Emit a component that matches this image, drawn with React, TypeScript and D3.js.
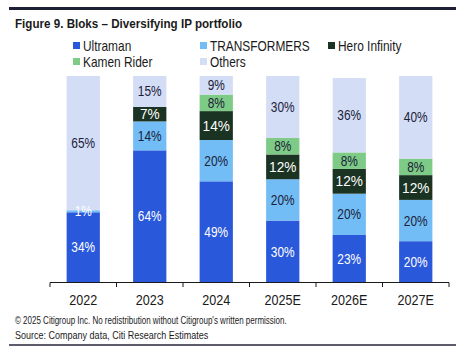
import React from "react";
import * as d3 from "d3";

const years = ["2022", "2023", "2024", "2025E", "2026E", "2027E"];
const seriesNames = ["Ultraman", "TRANSFORMERS", "Hero Infinity", "Kamen Rider", "Others"];
const ultraman = [34, 64, 49, 30, 23, 20];
const transformers = [1, 14, 20, 20, 20, 20];
const heroInfinity = [0, 7, 14, 12, 12, 12];
const kamenRider = [0, 0, 8, 8, 8, 8];
const others = [65, 15, 9, 30, 36, 40];

const colors = ["#2a58db", "#72bdf6", "#1b3322", "#7dcb86", "#d4ddf6"];
const labelColors = ["#ffffff", "#1b2238", "#ffffff", "#1b2238", "#1b2238"];
const FONT = "'Liberation Sans', Arial, sans-serif";

function CText({ x, y, size, fill, anchor = "middle", sx = 0.84, children, weight = "normal" }: any) {
  return (
    <text
      transform={`translate(${x},${y}) scale(${sx},1)`}
      fontSize={size}
      fill={fill}
      textAnchor={anchor}
      fontFamily={FONT}
      fontWeight={weight}
    >
      {children}
    </text>
  );
}

export default function App() {
  const W = 468, H = 355;
  const data = years.map((y, i) => ({
    year: y,
    values: [ultraman[i], transformers[i], heroInfinity[i], kamenRider[i], others[i]],
  }));
  const x = d3.scaleBand<string>().domain(years).range([50, 449]).paddingInner(0.5).paddingOuter(0.25);
  const yScale = d3.scaleLinear().domain([0, 100]).range([282.5, 76]);
  const boundaries = years.map((_, i) => 50 + i * x.step()).concat([449]);

  const legendPos = [
    [73, 42], [200, 42], [328, 42], [73, 58], [200, 58],
  ];

  return (
    <svg width={W} height={H} style={{ position: "absolute", left: 0, top: 0 }}>
      <rect x={0} y={0} width={W} height={H} fill="#ffffff" />
      <rect x={9} y={7} width={447} height={3} fill="#1c1f35" />
      <CText x={15} y={28} size={12.5} fill="#1a1a1a" anchor="start" sx={0.93} weight="bold">
        Figure 9. Bloks – Diversifying IP portfolio
      </CText>
      {seriesNames.map((n, i) => (
        <g key={n}>
          <rect x={legendPos[i][0]} y={legendPos[i][1]} width={7} height={7} fill={colors[i]} />
          <CText x={legendPos[i][0] + 10} y={legendPos[i][1] + 8.5} size={14} fill="#1a1a1a" anchor="start" sx={0.85}>
            {n}
          </CText>
        </g>
      ))}
      {data.map((d) => {
        let cum = 0;
        const bx = x(d.year)!;
        const bw = x.bandwidth();
        return (
          <g key={d.year}>
            {d.values.map((v, si) => {
              const y0 = yScale(cum);
              cum += v;
              const y1 = yScale(cum);
              if (v <= 0) return null;
              return (
                <rect key={si} x={bx} y={y1} width={bw} height={y0 - y1} fill={colors[si]} />
              );
            })}
          </g>
        );
      })}
      {data.map((d) => {
        let cum = 0;
        const cx = x(d.year)! + x.bandwidth() / 2;
        return (
          <g key={d.year + "l"}>
            {d.values.map((v, si) => {
              const y0 = yScale(cum);
              cum += v;
              const y1 = yScale(cum);
              if (v <= 0) return null;
              const cy = (y0 + y1) / 2;
              const fill = v < 3 ? "#ffffff" : labelColors[si];
              const bold = si === 2;
              return (
                <CText key={si} x={cx} y={cy + 5} size={bold ? 15.5 : 14.5} fill={fill} sx={bold ? 0.88 : 0.82}>
                  {`${v}%`}
                </CText>
              );
            })}
          </g>
        );
      })}
      <line x1={50} x2={449} y1={282.5} y2={282.5} stroke="#1a1a1a" strokeWidth={1.2} />
      {boundaries.map((b, i) => (
        <line key={i} x1={b} x2={b} y1={282.5} y2={287} stroke="#1a1a1a" strokeWidth={1} />
      ))}
      {years.map((yr) => (
        <CText key={yr} x={x(yr)! + x.bandwidth() / 2} y={305} size={15} fill="#1a1a1a" sx={0.84}>
          {yr}
        </CText>
      ))}
      <CText x={15} y={324} size={10} fill="#1a1a1a" anchor="start" sx={0.8}>
        © 2025 Citigroup Inc. No redistribution without Citigroup's written permission.
      </CText>
      <CText x={15} y={339} size={11} fill="#1a1a1a" anchor="start" sx={0.82}>
        Source: Company data, Citi Research Estimates
      </CText>
      <rect x={9} y={344} width={447} height={2} fill="#5c5c6c" />
    </svg>
  );
}
